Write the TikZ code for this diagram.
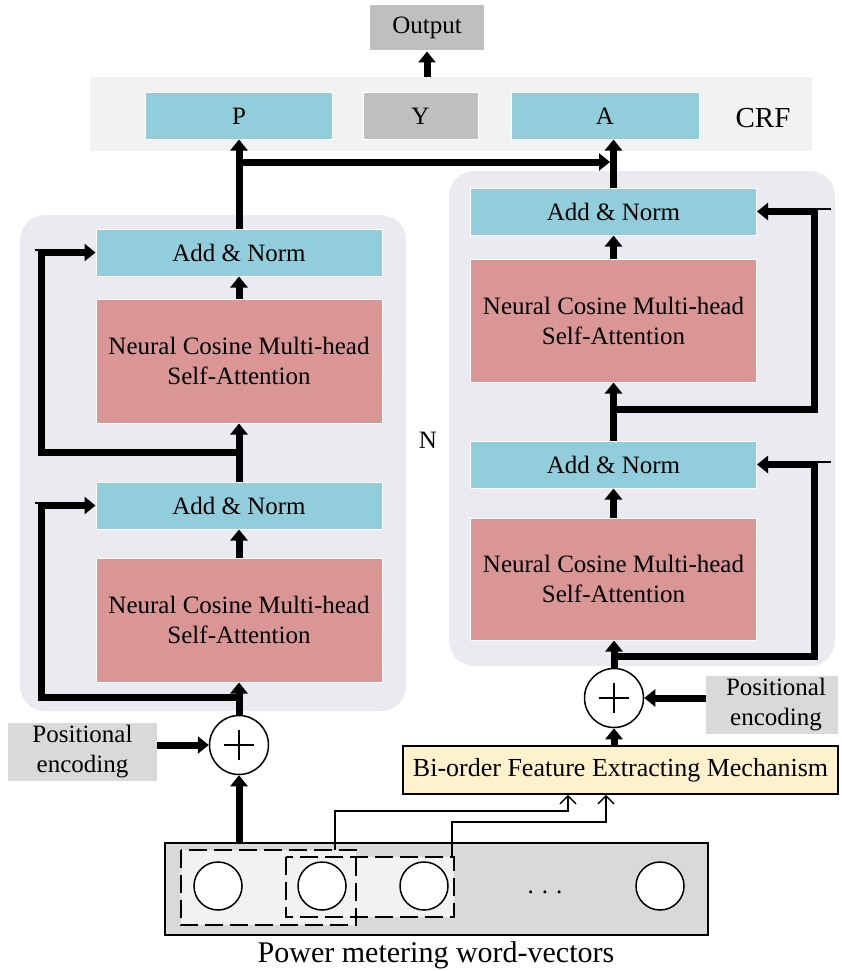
\documentclass[tikz,border=0pt]{standalone}
\usepackage{fontspec}
\setmainfont{Liberation Serif}
\usetikzlibrary{arrows.meta}
\definecolor{bluec}{HTML}{92CDDC}
\definecolor{redc}{HTML}{D99694}
\definecolor{panelc}{HTML}{ECEAF1}
\definecolor{crfc}{HTML}{F2F2F2}
\definecolor{grayc}{HTML}{BFBFBF}
\definecolor{pec}{HTML}{D9D9D9}
\definecolor{bic}{HTML}{FFF2CC}
\newcommand\fsz{\fontsize{25}{30}\selectfont}
\newcommand\fszo{\fontsize{25}{30}\selectfont}
\newcommand\fszb{\fontsize{29}{34}\selectfont}
\tikzset{
  box/.style={draw=white, line width=1pt, inner sep=0pt, align=center, font=\fsz},
  lbox/.style={box, minimum width=286pt},
  anbox/.style={lbox, fill=bluec, minimum height=47pt},
  sabox/.style={lbox, fill=redc, minimum height=124pt},
  pebox/.style={inner sep=0pt, align=center, font=\fsz, fill=pec, minimum height=58pt},
  arr/.style={line width=7pt, line join=miter, -{Triangle[length=11pt,width=17pt]}},
  thinarr/.style={line width=1.5pt, -{Straight Barb[length=8pt,width=16pt]}},
  stub/.style={line width=2pt},
  plus/.style={circle, draw, fill=white, line width=1.5pt, minimum size=59pt, inner sep=0pt},
  vec/.style={circle, draw, fill=white, line width=1.5pt, minimum size=48pt, inner sep=0pt},
  dbox/.style={dash pattern=on 18pt off 7pt, line width=1.5pt}
}
\begin{document}
\begin{tikzpicture}[x=1pt,y=-1pt]
\useasboundingbox (0,0) rectangle (841,971);
% panels
\fill[panelc, rounded corners=25pt] (20,215) rectangle (406,711);
\fill[panelc, rounded corners=25pt] (449,171) rectangle (835,666);
% CRF band
\node[fill=crfc, minimum width=722pt, minimum height=74pt, inner sep=0pt] (crf) at (451,114) {};
\node[font=\fszb] (crft) at (763,118) {CRF};
\node[box, fill=grayc, minimum width=115pt, minimum height=46pt, font=\fszo] (out) at (427,28) {Output};
\node[box, fill=bluec, minimum width=187pt, minimum height=46pt] (P) at (239,116) {P};
\node[box, fill=grayc, minimum width=115pt, minimum height=46pt] (Y) at (420.5,116) {Y};
\node[box, fill=bluec, minimum width=188pt, minimum height=46pt] (A) at (605,116) {A};
% left column
\node[anbox] (lan2) at (239,252.5) {Add \& Norm};
\node[sabox] (lsa2) at (239,361) {Neural Cosine Multi-head\\Self-Attention};
\node[anbox] (lan1) at (239,505.5) {Add \& Norm};
\node[sabox] (lsa1) at (239,620) {Neural Cosine Multi-head\\Self-Attention};
% right column
\node[anbox] (ran2) at (613.5,211.5) {Add \& Norm};
\node[sabox, minimum height=123pt] (rsa2) at (613.5,320.5) {Neural Cosine Multi-head\\Self-Attention};
\node[anbox] (ran1) at (613.5,464.5) {Add \& Norm};
\node[sabox, minimum height=122pt] (rsa1) at (613.5,579) {Neural Cosine Multi-head\\Self-Attention};
\node[font=\fsz] (N) at (428,440) {N};
% plus circles
\node[plus] (lp) at (239,745) {};
\node[plus] (rp) at (614,698) {};
\foreach \c in {lp,rp}{
  \draw[line width=1.5pt] ([xshift=-15pt]\c.center) -- ([xshift=15pt]\c.center);
  \draw[line width=1.5pt] ([yshift=-15pt]\c.center) -- ([yshift=15pt]\c.center);
}
% positional encodings
\node[pebox, minimum width=149pt] (lpe) at (82.5,752) {Positional\\encoding};
\node[pebox, minimum width=132pt] (rpe) at (772,705) {\hspace*{8pt}Positional\\\hspace*{8pt}encoding};
% bi-order
\node[draw, line width=1.5pt, fill=bic, minimum width=435pt, minimum height=48pt, inner sep=0pt, font=\fontsize{26}{30}\selectfont] (bi) at (620.5,770) {Bi-order Feature Extracting Mechanism};
% word vectors
\node[draw, line width=1.5pt, fill=pec, minimum width=543pt, minimum height=92pt, inner sep=0pt] (wv) at (436.5,889) {};
\fill[crfc] (181,850) rectangle (356,925);
\fill[crfc] (286,857) rectangle (454,917);
\node[minimum width=175pt, minimum height=75pt, inner sep=0pt] (d1) at (268.5,887.5) {};
\node[minimum width=168pt, minimum height=60pt, inner sep=0pt] (d2) at (370,887) {};
\draw[dbox] (d1.north west) rectangle (d1.south east);
\draw[dbox] (d2.north west) rectangle (d2.south east);
\node[vec] (v1) at (218,886) {};
\node[vec] (v2) at (322,886) {};
\node[vec] (v3) at (424,886) {};
\node[vec] (v4) at (660,886) {};
\node[font=\fsz] (dots) at (545,892) {.\hspace{8pt}.\hspace{8pt}.};
\node[font=\fontsize{30}{34}\selectfont] (lbl) at (436,955) {Power metering word-vectors};
% thin connectors
\coordinate (b1) at (568,0);
\coordinate (b2) at (606,0);
\draw[thinarr] ([xshift=66.5pt]d1.north) -- ++(0,-39) -| (b1 |- bi.south);
\draw[thinarr] ([xshift=82pt]d2.north) -- ++(0,-35) -| (b2 |- bi.south);
% thick arrows left
\draw[arr] (wv.north -| lp.south) -- (lp.south);
\draw[arr] (lpe.east |- lp.west) -- (lp.west);
\draw[arr] (lp.north) -- (lsa1.south);
\draw[arr] (lsa1.north) -- (lan1.south);
\draw[arr] (lan1.north) -- (lsa2.south);
\draw[arr] (lsa2.north) -- (lan2.south);
\draw[arr] (lan2.north) -- (P.south);
\coordinate (lt1) at (239,697);
\coordinate (lt2) at (239,452);
\draw[arr] (lt1) -| ([xshift=-54pt]lan1.west) -- (lan1.west);
\draw[arr] (lt2) -| ([xshift=-54pt]lan2.west) -- (lan2.west);
\draw[stub] ([xshift=-61pt,yshift=2.5pt]lan1.west) -- ([xshift=-54pt,yshift=2.5pt]lan1.west);
\draw[stub] ([xshift=-61pt,yshift=2.5pt]lan2.west) -- ([xshift=-54pt,yshift=2.5pt]lan2.west);
% thick arrows right
\draw[arr] (bi.north -| rp.south) -- (rp.south);
\draw[arr] (rpe.west |- rp.east) -- (rp.east);
\draw[arr] (rp.north) -- (rp.north |- rsa1.south);
\draw[arr] (rsa1.north) -- (ran1.south);
\draw[arr] (ran1.north) -- (rsa2.south);
\draw[arr] (rsa2.north) -- (ran2.south);
\draw[arr] (ran2.north) -- (ran2.north |- A.south);
\coordinate (rt1) at (614,656);
\coordinate (rt2) at (614,409);
\draw[arr] (rt1) -| ([xshift=57pt]ran1.east) -- (ran1.east);
\draw[arr] (rt2) -| ([xshift=57pt]ran2.east) -- (ran2.east);
\draw[stub] ([xshift=57pt,yshift=2.5pt]ran1.east) -- ([xshift=74pt,yshift=2.5pt]ran1.east);
\draw[stub] ([xshift=57pt,yshift=2.5pt]ran2.east) -- ([xshift=74pt,yshift=2.5pt]ran2.east);
% top connectors
\coordinate (j) at (0,162);
\draw[arr, shorten >=3.5pt] (lan2.north |- j) -- (ran2.north |- j);
\draw[arr] (out.south |- crf.north) -- (out.south);
\end{tikzpicture}
\end{document}
